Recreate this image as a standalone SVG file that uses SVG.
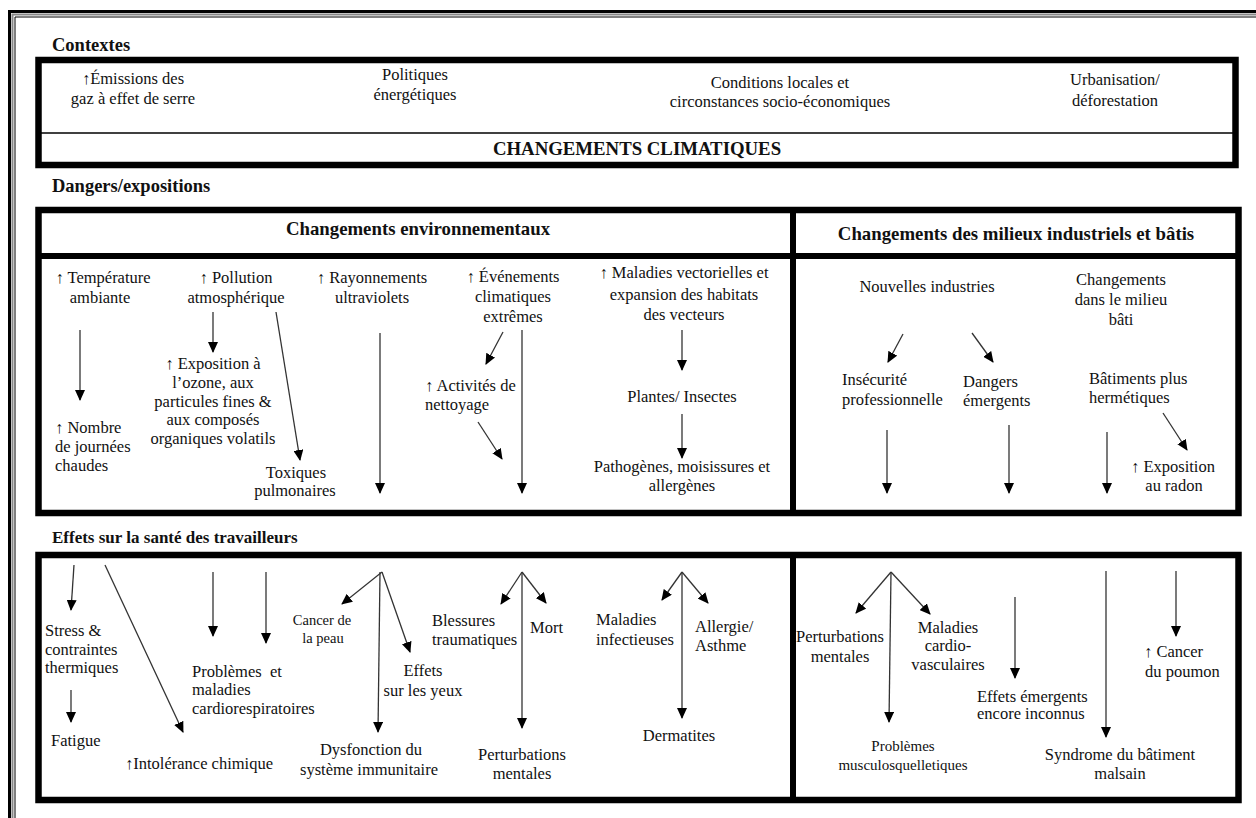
<svg xmlns="http://www.w3.org/2000/svg" width="1256" height="818" viewBox="0 0 1256 818" font-family="Liberation Serif, serif">
<style>
text{font-family:'Liberation Serif',serif;fill:#111;}
.b{font-size:16.5px;}
.s{font-size:14.5px;}
.m{font-size:15px;}
.c{text-anchor:middle;}
.lbl{font-size:18.5px;font-weight:bold;}
.hd{font-size:18.8px;font-weight:bold;text-anchor:middle;}
.box{fill:none;stroke:#000;stroke-width:6.5;}
.sep{stroke:#000;stroke-width:6;}
.thin{stroke:#000;stroke-width:1.5;}
.con line{stroke:#333;stroke-width:1.3;marker-end:url(#ah);}
</style>
<defs>
<marker id="ah" markerUnits="userSpaceOnUse" markerWidth="11" markerHeight="10" refX="10" refY="5" orient="auto">
<path d="M0,0 L11,5 L0,10 z" fill="#000"/>
</marker>
</defs>
<rect width="1256" height="818" fill="#fff"/>
<g id="frame">
<path d="M9.5,818 V11.5 H1256" fill="none" stroke="#000" stroke-width="3"/>
<path d="M12.5,818 V14.5 H1256" fill="none" stroke="#888" stroke-width="2"/>
<path d="M15,818 V17 H1256" fill="none" stroke="#000" stroke-width="1"/>
</g>
<g id="contextes">
<text class="lbl" x="52" y="51">Contextes</text>
<rect class="box" x="38.5" y="60" width="1197" height="105"/>
<line class="thin" x1="38" y1="133" x2="1236" y2="133"/>
<text class="b c" x="133" y="84">↑Émissions des</text>
<text class="b c" x="133" y="104">gaz à effet de serre</text>
<text class="b c" x="415" y="80">Politiques</text>
<text class="b c" x="415" y="100">énergétiques</text>
<text class="b c" x="780" y="88">Conditions locales et</text>
<text class="b c" x="780" y="107">circonstances socio-économiques</text>
<text class="b c" x="1115" y="85">Urbanisation/</text>
<text class="b c" x="1115" y="106">déforestation</text>
<text class="hd" x="637" y="155">CHANGEMENTS CLIMATIQUES</text>
</g>
<g id="dangers">
<text class="lbl" x="52" y="192">Dangers/expositions</text>
<rect class="box" x="38.5" y="210" width="1200" height="303"/>
<line class="sep" x1="38" y1="256" x2="1238" y2="256"/>
<line class="sep" x1="793" y1="210" x2="793" y2="513"/>
<text class="hd" x="418" y="235">Changements environnementaux</text>
<text class="hd" x="1016" y="240">Changements des milieux industriels et bâtis</text>
</g>
<g id="n-temperature"><text class="b c" x="103" y="283">↑ Température</text><text class="b c" x="100" y="303">ambiante</text></g>
<g id="n-nombre"><text class="b" x="55" y="433">↑ Nombre</text><text class="b" x="55" y="452">de journées</text><text class="b" x="55" y="471">chaudes</text></g>
<g id="n-pollution"><text class="b c" x="236" y="283">↑ Pollution</text><text class="b c" x="236" y="303">atmosphérique</text></g>
<g id="n-exposition"><text class="b c" x="213" y="369">↑ Exposition à</text><text class="b c" x="213" y="388">l’ozone, aux</text><text class="b c" x="213" y="407">particules fines &amp;</text><text class="b c" x="213" y="425">aux composés</text><text class="b c" x="213" y="444">organiques volatils</text></g>
<g id="n-toxiques"><text class="b c" x="296" y="478">Toxiques</text><text class="b c" x="295" y="496">pulmonaires</text></g>
<g id="n-rayonnements"><text class="b c" x="372" y="283">↑ Rayonnements</text><text class="b c" x="372" y="303">ultraviolets</text></g>
<g id="n-evenements"><text class="b c" x="513" y="282">↑ Événements</text><text class="b c" x="513" y="302">climatiques</text><text class="b c" x="513" y="322">extrêmes</text></g>
<g id="n-activites"><text class="b" x="425" y="391">↑ Activités de</text><text class="b" x="425" y="410">nettoyage</text></g>
<g id="n-maladies-vect"><text class="b c" x="684" y="278">↑ Maladies vectorielles et</text><text class="b c" x="684" y="300">expansion des habitats</text><text class="b c" x="684" y="320">des vecteurs</text></g>
<g id="n-plantes"><text class="b c" x="682" y="402">Plantes/ Insectes</text></g>
<g id="n-pathogenes"><text class="b c" x="682" y="472">Pathogènes, moisissures et</text><text class="b c" x="682" y="491">allergènes</text></g>
<g id="n-nouvelles"><text class="b c" x="927" y="292">Nouvelles industries</text></g>
<g id="n-changements-bati"><text class="b c" x="1121" y="285">Changements</text><text class="b c" x="1121" y="305">dans le milieu</text><text class="b c" x="1121" y="325">bâti</text></g>
<g id="n-insecurite"><text class="b" x="842" y="385">Insécurité</text><text class="b" x="842" y="405">professionnelle</text></g>
<g id="n-dangers-em"><text class="b" x="963" y="387">Dangers</text><text class="b" x="963" y="406">émergents</text></g>
<g id="n-batiments"><text class="b" x="1089" y="384">Bâtiments plus</text><text class="b" x="1089" y="403">hermétiques</text></g>
<g id="n-radon"><text class="b c" x="1173" y="472">↑ Exposition</text><text class="b c" x="1174" y="491">au radon</text></g>
<g id="effets">
<text class="lbl" x="52" y="543" style="font-size:17px">Effets sur la santé des travailleurs</text>
<rect class="box" x="38.5" y="555" width="1200" height="245"/>
<line class="sep" x1="793" y1="555" x2="793" y2="800"/>
</g>
<g id="n-stress"><text class="b" x="45" y="636">Stress &amp;</text><text class="b" x="45" y="655">contraintes</text><text class="b" x="45" y="673">thermiques</text></g>
<g id="n-fatigue"><text class="b" x="51" y="746">Fatigue</text></g>
<g id="n-intolerance"><text class="b" x="125" y="769">↑Intolérance chimique</text></g>
<g id="n-cardioresp"><text class="b" x="192" y="677">Problèmes&#160; et</text><text class="b" x="192" y="695">maladies</text><text class="b" x="192" y="714">cardiorespiratoires</text></g>
<g id="n-cancer-peau"><text class="s c" x="322" y="625">Cancer de</text><text class="s c" x="323" y="643">la peau</text></g>
<g id="n-yeux"><text class="b c" x="423" y="676">Effets</text><text class="b c" x="423" y="696">sur les yeux</text></g>
<g id="n-immunitaire"><text class="b c" x="371" y="755">Dysfonction du</text><text class="b c" x="369" y="775">système immunitaire</text></g>
<g id="n-blessures"><text class="b" x="432" y="626">Blessures</text><text class="b" x="432" y="645">traumatiques</text></g>
<g id="n-mort"><text class="b" x="530" y="633">Mort</text></g>
<g id="n-perturb1"><text class="b c" x="522" y="760">Perturbations</text><text class="b c" x="522" y="779">mentales</text></g>
<g id="n-infectieuses"><text class="b" x="596" y="625">Maladies</text><text class="b" x="596" y="645">infectieuses</text></g>
<g id="n-allergie"><text class="b" x="695" y="632">Allergie/</text><text class="b" x="695" y="651">Asthme</text></g>
<g id="n-dermatites"><text class="b c" x="679" y="741">Dermatites</text></g>
<g id="n-perturb2"><text class="b c" x="840" y="642">Perturbations</text><text class="b c" x="840" y="662">mentales</text></g>
<g id="n-cardiovasc"><text class="b c" x="948" y="633">Maladies</text><text class="b c" x="948" y="651">cardio-</text><text class="b c" x="948" y="670">vasculaires</text></g>
<g id="n-emergents"><text class="b" x="977" y="702">Effets émergents</text><text class="b" x="977" y="719">encore inconnus</text></g>
<g id="n-musculo"><text class="m c" x="903" y="751">Problèmes</text><text class="m c" x="903" y="770">musculosquelletiques</text></g>
<g id="n-syndrome"><text class="b c" x="1120" y="760">Syndrome du bâtiment</text><text class="b c" x="1120" y="779">malsain</text></g>
<g id="n-poumon"><text class="b" x="1144" y="657">↑ Cancer</text><text class="b" x="1145" y="677">du poumon</text></g>
<g id="connectors" class="con">
<line x1="80" y1="330" x2="80" y2="400"/>
<line x1="213" y1="312" x2="213" y2="352"/>
<line x1="276" y1="312" x2="300" y2="460"/>
<line x1="380" y1="333" x2="380" y2="493"/>
<line x1="503" y1="332" x2="486" y2="364"/>
<line x1="522" y1="330" x2="522" y2="493"/>
<line x1="478" y1="422" x2="502" y2="459"/>
<line x1="682" y1="330" x2="682" y2="370"/>
<line x1="682" y1="414" x2="682" y2="458"/>
<line x1="903" y1="334" x2="888" y2="362"/>
<line x1="972" y1="333" x2="993" y2="362"/>
<line x1="1163" y1="413" x2="1187" y2="450"/>
<line x1="887" y1="430" x2="887" y2="493"/>
<line x1="1009" y1="425" x2="1009" y2="493"/>
<line x1="1107" y1="432" x2="1107" y2="493"/>
<line x1="74" y1="565" x2="71" y2="610"/>
<line x1="71" y1="690" x2="71" y2="722"/>
<line x1="105" y1="565" x2="183" y2="732"/>
<line x1="213" y1="572" x2="213" y2="636"/>
<line x1="266" y1="572" x2="266" y2="643"/>
<line x1="382" y1="572" x2="342" y2="604"/>
<line x1="380" y1="572" x2="378" y2="732"/>
<line x1="382" y1="572" x2="410" y2="652"/>
<line x1="522" y1="572" x2="501" y2="604"/>
<line x1="522" y1="572" x2="546" y2="603"/>
<line x1="522" y1="572" x2="522" y2="728"/>
<line x1="682" y1="572" x2="662" y2="600"/>
<line x1="682" y1="572" x2="708" y2="603"/>
<line x1="682" y1="572" x2="682" y2="718"/>
<line x1="891" y1="572" x2="856" y2="613"/>
<line x1="891" y1="572" x2="930" y2="614"/>
<line x1="891" y1="572" x2="889" y2="722"/>
<line x1="1015" y1="597" x2="1015" y2="678"/>
<line x1="1106" y1="571" x2="1106" y2="737"/>
<line x1="1176" y1="571" x2="1176" y2="636"/>
</g>
</svg>
